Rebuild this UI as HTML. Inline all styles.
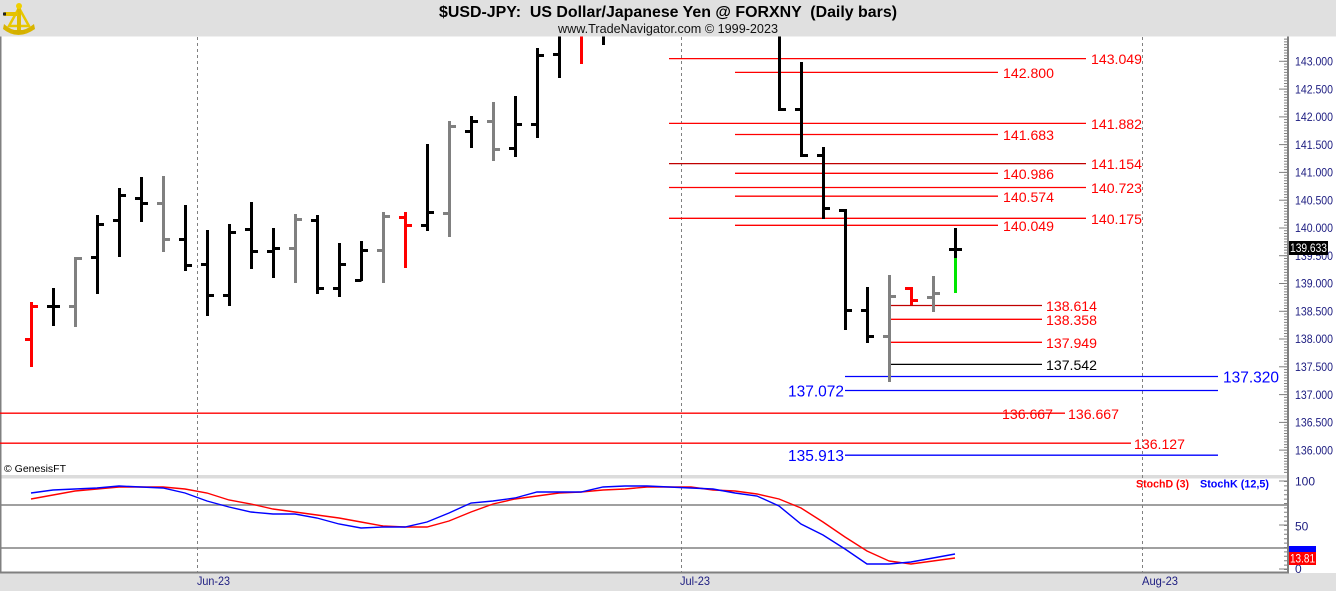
<!DOCTYPE html>
<html><head><meta charset="utf-8"><style>
html,body{margin:0;padding:0;background:#fff;}
svg{display:block;}
text{font-family:"Liberation Sans",Arial,sans-serif;white-space:pre;}
</style></head><body>
<svg width="1336" height="591" viewBox="0 0 1336 591" xmlns="http://www.w3.org/2000/svg" xml:space="preserve">
<defs><clipPath id="pc"><rect x="0" y="36.5" width="1287" height="438"/></clipPath></defs>
<rect x="0" y="0" width="1336" height="591" fill="#fff"/>
<rect x="0" y="0" width="1336" height="36.5" fill="#e0e0e0"/>
<text x="439" y="17" font-size="16" font-weight="bold" fill="#000" textLength="458" lengthAdjust="spacingAndGlyphs">$USD-JPY:  US Dollar/Japanese Yen @ FORXNY  (Daily bars)</text>
<text x="558" y="33" font-size="13" fill="#111" textLength="220" lengthAdjust="spacingAndGlyphs">www.TradeNavigator.com © 1999-2023</text>
<g>
<path d="M4 24 Q18 37 34 24 L35 29 Q18 41 3 29 Z" fill="#d8b400"/>
<path d="M9 26 L19 8 L29 26 Z" fill="none" stroke="#e8c800" stroke-width="2.5"/>
<rect x="17" y="4" width="4" height="28" fill="#e0bc00"/>
<circle cx="19" cy="6" r="3" fill="#f0d000"/>
<rect x="4" y="12" width="14" height="4" fill="#e6c200"/>
<rect x="3" y="12.5" width="3" height="3" fill="#222"/>
<rect x="13" y="30" width="12" height="4" fill="#d4b000"/>
</g>
<rect x="0" y="573" width="1336" height="18" fill="#e0e0e0"/>
<rect x="0" y="475" width="1288" height="3.5" fill="#dcdcdc"/>
<rect x="0" y="36.5" width="1.5" height="537" fill="#808080"/>
<g stroke="#808080" stroke-width="1" stroke-dasharray="3 3">
<line x1="197.5" y1="37" x2="197.5" y2="572"/>
<line x1="681.5" y1="37" x2="681.5" y2="572"/>
<line x1="1142.5" y1="37" x2="1142.5" y2="572"/>
</g>
<g stroke-width="1.3" fill="none">
<line x1="669" y1="58.6" x2="1086" y2="58.6" stroke="#ff0000"/>
<line x1="735" y1="72.4" x2="998" y2="72.4" stroke="#ff0000"/>
<line x1="669" y1="123.4" x2="1086" y2="123.4" stroke="#ff0000"/>
<line x1="735" y1="134.5" x2="998" y2="134.5" stroke="#ff0000"/>
<line x1="669" y1="163.6" x2="1086" y2="163.6" stroke="#c00000"/>
<line x1="735" y1="173.3" x2="998" y2="173.3" stroke="#ff0000"/>
<line x1="669" y1="187.5" x2="1086" y2="187.5" stroke="#ff0000"/>
<line x1="735" y1="196.2" x2="998" y2="196.2" stroke="#ff0000"/>
<line x1="669" y1="218.3" x2="1086" y2="218.3" stroke="#ff0000"/>
<line x1="735" y1="225.3" x2="998" y2="225.3" stroke="#ff0000"/>
<line x1="889" y1="305.5" x2="1042" y2="305.5" stroke="#c00000"/>
<line x1="889" y1="319.3" x2="1042" y2="319.3" stroke="#ff0000"/>
<line x1="889" y1="342.3" x2="1042" y2="342.3" stroke="#ff0000"/>
<line x1="889" y1="364.4" x2="1042" y2="364.4" stroke="#000"/>
<line x1="845" y1="376.5" x2="1218" y2="376.5" stroke="#0000ff"/>
<line x1="845" y1="390.5" x2="1218" y2="390.5" stroke="#0000ff"/>
<line x1="0" y1="413.2" x2="1065" y2="413.2" stroke="#ff0000"/>
<line x1="0" y1="443.2" x2="1131" y2="443.2" stroke="#ff0000"/>
<line x1="845" y1="455.2" x2="1218" y2="455.2" stroke="#0000ff"/>
</g>
<g font-size="14" fill="#ff0000">
<text x="1091" y="64" textLength="51" lengthAdjust="spacingAndGlyphs">143.049</text>
<text x="1003" y="78" textLength="51" lengthAdjust="spacingAndGlyphs">142.800</text>
<text x="1091" y="129" textLength="51" lengthAdjust="spacingAndGlyphs">141.882</text>
<text x="1003" y="140" textLength="51" lengthAdjust="spacingAndGlyphs">141.683</text>
<text x="1091" y="169" textLength="51" lengthAdjust="spacingAndGlyphs">141.154</text>
<text x="1003" y="179" textLength="51" lengthAdjust="spacingAndGlyphs">140.986</text>
<text x="1091" y="193" textLength="51" lengthAdjust="spacingAndGlyphs">140.723</text>
<text x="1003" y="202" textLength="51" lengthAdjust="spacingAndGlyphs">140.574</text>
<text x="1091" y="224" textLength="51" lengthAdjust="spacingAndGlyphs">140.175</text>
<text x="1003" y="231" textLength="51" lengthAdjust="spacingAndGlyphs">140.049</text>
<text x="1046" y="311" textLength="51" lengthAdjust="spacingAndGlyphs">138.614</text>
<text x="1046" y="325" textLength="51" lengthAdjust="spacingAndGlyphs">138.358</text>
<text x="1046" y="348" textLength="51" lengthAdjust="spacingAndGlyphs">137.949</text>
<text x="1046" y="370" textLength="51" lengthAdjust="spacingAndGlyphs" fill="#000">137.542</text>
<text x="1002" y="419" textLength="51" lengthAdjust="spacingAndGlyphs">136.667</text>
<text x="1068" y="419" textLength="51" lengthAdjust="spacingAndGlyphs">136.667</text>
<text x="1134" y="449" textLength="51" lengthAdjust="spacingAndGlyphs">136.127</text>
</g>
<g font-size="16" fill="#0000ff">
<text x="1223" y="382.5" textLength="56" lengthAdjust="spacingAndGlyphs">137.320</text>
<text x="788" y="396.5" textLength="56" lengthAdjust="spacingAndGlyphs">137.072</text>
<text x="788" y="461" textLength="56" lengthAdjust="spacingAndGlyphs">135.913</text>
</g>
<g clip-path="url(#pc)" stroke-width="3" fill="none">
<path stroke="#ff0000" d="M31.5 302V367M25 339.5H31.5M31.5 306.5H38"/>
<path stroke="#000" d="M53.5 288V326M47 306.5H53.5M53.5 306.5H60"/>
<path stroke="#808080" d="M75.5 257V327M69 306.5H75.5M75.5 258.5H82"/>
<path stroke="#000" d="M97.5 215V294M91 257.5H97.5M97.5 224.5H104"/>
<path stroke="#000" d="M119.5 188V257M113 220.5H119.5M119.5 195.5H126"/>
<path stroke="#000" d="M141.5 177V222M135 198.5H141.5M141.5 203.5H148"/>
<path stroke="#808080" d="M163.5 176V252M157 203.5H163.5M163.5 239.5H170"/>
<path stroke="#000" d="M185.5 205V271M179 239.5H185.5M185.5 265.5H192"/>
<path stroke="#000" d="M207.5 230V316M201 264.5H207.5M207.5 295.5H214"/>
<path stroke="#000" d="M229.5 224V306M223 295.5H229.5M229.5 232.5H236"/>
<path stroke="#000" d="M251.5 202V269M245 229.5H251.5M251.5 251.5H258"/>
<path stroke="#000" d="M273.5 228V278M267 251.5H273.5M273.5 248.5H280"/>
<path stroke="#808080" d="M295.5 214V283M289 248.5H295.5M295.5 219.5H302"/>
<path stroke="#000" d="M317.5 215V294M311 220.5H317.5M317.5 288.5H324"/>
<path stroke="#000" d="M339.5 243V297M333 288.5H339.5M339.5 264.5H346"/>
<path stroke="#000" d="M361.5 241V281M355 280.5H361.5M361.5 250.5H368"/>
<path stroke="#808080" d="M383.5 212V283M377 250.5H383.5M383.5 216.5H390"/>
<path stroke="#ff0000" d="M405.5 212V268M399 217.5H405.5M405.5 225.5H412"/>
<path stroke="#000" d="M427.5 144V231M421 225.5H427.5M427.5 212.5H434"/>
<path stroke="#808080" d="M449.5 121V237M443 213.5H449.5M449.5 126.5H456"/>
<path stroke="#000" d="M471.5 116V148M465 131.5H471.5M471.5 121.5H478"/>
<path stroke="#808080" d="M493.5 102V161M487 121.5H493.5M493.5 149.5H500"/>
<path stroke="#000" d="M515.5 96V157M509 148.5H515.5M515.5 124.5H522"/>
<path stroke="#000" d="M537.5 48V138M531 124.5H537.5M537.5 55.5H544"/>
<path stroke="#000" d="M559.5 30V78M553 54.5H559.5"/>
<path stroke="#ff0000" d="M581.5 30V64"/>
<path stroke="#000" d="M603.5 30V45"/>
<path stroke="#000" d="M779.5 30V111M779.5 109.5H786"/>
<path stroke="#000" d="M801.5 62V157M795 109.5H801.5M801.5 155.5H808"/>
<path stroke="#000" d="M823.5 147V219M817 155.5H823.5M823.5 208.5H830"/>
<path stroke="#000" d="M845.5 209V330M839 210.5H845.5M845.5 310.5H852"/>
<path stroke="#000" d="M867.5 287V343M861 310.5H867.5M867.5 336.5H874"/>
<path stroke="#808080" d="M889.5 275V382M883 336.5H889.5M889.5 296.5H896"/>
<path stroke="#ff0000" d="M911.5 287V305M905 288.5H911.5M911.5 300.5H918"/>
<path stroke="#808080" d="M933.5 276V312M927 297.5H933.5M933.5 293.5H940"/>
<path stroke="#000" d="M955.5 228V258M949 249.5H955.5M955.5 249.5H962"/>
<path stroke="#00e600" d="M955.5 258V293"/>
</g>
<text x="4" y="472" font-size="10.5" fill="#000" textLength="62" lengthAdjust="spacingAndGlyphs">© GenesisFT</text>
<g stroke="#808080" stroke-width="1.5">
<line x1="0" y1="505" x2="1288" y2="505"/>
<line x1="0" y1="548" x2="1288" y2="548"/>
</g>
<rect x="0" y="571.5" width="1289" height="2" fill="#808080"/>
<polyline fill="none" stroke="#ff0000" stroke-width="1.4" points="31,499 53,495 75,491 97,489 119,487 141,487 163,487 185,489 207,493 229,500 251,504 273,509 295,512 317,515 339,518 361,522 383,526 405,527 427,527 449,521 471,512 493,504 515,499 537,496 559,493 581,492 603,490 625,489 647,487 669,487 691,487 713,490 735,491 757,494 779,499 801,508 823,522 845,537 867,551 889,561 911,564 933,561 955,558"/>
<polyline fill="none" stroke="#0000ff" stroke-width="1.4" points="31,493 53,490 75,489 97,488 119,486 141,487 163,488 185,493 207,501 229,507 251,512 273,514 295,514 317,518 339,524 361,528 383,527 405,527 427,522 449,513 471,503 493,501 515,498 537,492 559,492 581,492 603,487 625,486 647,486 669,487 691,488 713,489 735,493 757,496 779,506 801,524 823,535 845,549 867,564 889,564 911,562 933,558 955,554"/>
<text x="1136" y="487.5" font-size="11" font-weight="bold" fill="#ff0000" textLength="53" lengthAdjust="spacingAndGlyphs">StochD (3)</text>
<text x="1200" y="487.5" font-size="11" font-weight="bold" fill="#0000ff" textLength="69" lengthAdjust="spacingAndGlyphs">StochK (12,5)</text>
<rect x="1287" y="36.5" width="2" height="537" fill="#808080"/>
<line x1="1286" y1="37" x2="1286" y2="474" stroke="#808080" stroke-width="4" stroke-dasharray="1 1.7775" stroke-dashoffset="1.2"/>
<g stroke="#808080" stroke-width="1">
<line x1="1279" y1="61.3" x2="1288" y2="61.3"/>
<line x1="1279" y1="89.1" x2="1288" y2="89.1"/>
<line x1="1279" y1="116.9" x2="1288" y2="116.9"/>
<line x1="1279" y1="144.6" x2="1288" y2="144.6"/>
<line x1="1279" y1="172.4" x2="1288" y2="172.4"/>
<line x1="1279" y1="200.2" x2="1288" y2="200.2"/>
<line x1="1279" y1="228" x2="1288" y2="228"/>
<line x1="1279" y1="255.7" x2="1288" y2="255.7"/>
<line x1="1279" y1="283.5" x2="1288" y2="283.5"/>
<line x1="1279" y1="311.3" x2="1288" y2="311.3"/>
<line x1="1279" y1="339" x2="1288" y2="339"/>
<line x1="1279" y1="366.8" x2="1288" y2="366.8"/>
<line x1="1279" y1="394.6" x2="1288" y2="394.6"/>
<line x1="1279" y1="422.4" x2="1288" y2="422.4"/>
<line x1="1279" y1="450.1" x2="1288" y2="450.1"/>
<line x1="1279" y1="481" x2="1288" y2="481"/>
<line x1="1279" y1="525" x2="1288" y2="525"/>
<line x1="1279" y1="569" x2="1288" y2="569"/>
</g>
<line x1="1286" y1="481" x2="1286" y2="570" stroke="#808080" stroke-width="4" stroke-dasharray="1 3.4"/>
<g font-size="12" fill="#1c1c80">
<text x="1295" y="65.5" textLength="38" lengthAdjust="spacingAndGlyphs">143.000</text>
<text x="1295" y="93.3" textLength="38" lengthAdjust="spacingAndGlyphs">142.500</text>
<text x="1295" y="121.1" textLength="38" lengthAdjust="spacingAndGlyphs">142.000</text>
<text x="1295" y="148.8" textLength="38" lengthAdjust="spacingAndGlyphs">141.500</text>
<text x="1295" y="176.6" textLength="38" lengthAdjust="spacingAndGlyphs">141.000</text>
<text x="1295" y="204.4" textLength="38" lengthAdjust="spacingAndGlyphs">140.500</text>
<text x="1295" y="232.2" textLength="38" lengthAdjust="spacingAndGlyphs">140.000</text>
<text x="1295" y="259.9" textLength="38" lengthAdjust="spacingAndGlyphs">139.500</text>
<text x="1295" y="287.7" textLength="38" lengthAdjust="spacingAndGlyphs">139.000</text>
<text x="1295" y="315.5" textLength="38" lengthAdjust="spacingAndGlyphs">138.500</text>
<text x="1295" y="343.2" textLength="38" lengthAdjust="spacingAndGlyphs">138.000</text>
<text x="1295" y="371" textLength="38" lengthAdjust="spacingAndGlyphs">137.500</text>
<text x="1295" y="398.8" textLength="38" lengthAdjust="spacingAndGlyphs">137.000</text>
<text x="1295" y="426.6" textLength="38" lengthAdjust="spacingAndGlyphs">136.500</text>
<text x="1295" y="454.3" textLength="38" lengthAdjust="spacingAndGlyphs">136.000</text>
<text x="1295" y="485.5">100</text>
<text x="1295" y="530.5">50</text>
<text x="1295" y="573">0</text>
<text x="197" y="585" textLength="33" lengthAdjust="spacingAndGlyphs">Jun-23</text>
<text x="680" y="585" textLength="30" lengthAdjust="spacingAndGlyphs">Jul-23</text>
<text x="1142" y="585" textLength="36" lengthAdjust="spacingAndGlyphs">Aug-23</text>
</g>
<rect x="1289" y="241" width="39" height="14" fill="#000"/>
<text x="1290" y="252" font-size="11.5" fill="#fff" textLength="37" lengthAdjust="spacingAndGlyphs">139.633</text>
<rect x="1289" y="546" width="27" height="7" fill="#0000ff"/>
<rect x="1289" y="552" width="27" height="13" fill="#ff0000"/>
<text x="1290" y="562.5" font-size="11.5" fill="#fff" textLength="25" lengthAdjust="spacingAndGlyphs">13.81</text>
</svg>
</body></html>
